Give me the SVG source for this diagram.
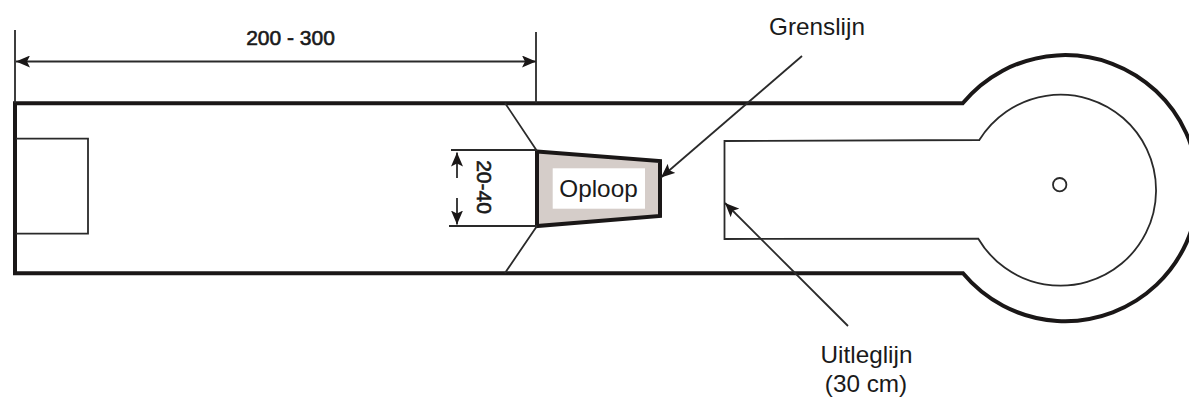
<svg xmlns="http://www.w3.org/2000/svg" width="1189" height="398" viewBox="0 0 1189 398">
<style>
text{font-family:"Liberation Sans",Arial,sans-serif;fill:#1a1a1a}
.thick{fill:none;stroke:#1a1717;stroke-width:4}
.thin{fill:none;stroke:#2a2a2a;stroke-width:1.8}
.conn{fill:none;stroke:#2a2a2a;stroke-width:1.8}
.lbl{font-size:24.3px;text-anchor:middle}
.b{font-size:21px;text-anchor:middle;stroke:#1a1a1a;stroke-width:.6}
</style>
<defs>
<marker id="a" viewBox="0 0 14 12" refX="14" refY="6" markerWidth="14" markerHeight="12" markerUnits="userSpaceOnUse" orient="auto-start-reverse"><path d="M0 0L14 6L0 12L3 6Z" fill="#1a1717"/></marker>
</defs>
<rect width="1189" height="398" fill="#fff"/>
<g id="field">
<path class="thick" d="M15 103.3H962.7A133 133 0 1 1 963 273.3H15Z"/>
</g>
<g id="inner-line">
<path class="thin" d="M724.5 141L979.3 140A95.5 95.5 0 1 1 978.3 238.7L724.5 239Z"/>
<circle class="thin" cx="1059.7" cy="184.7" r="6.7"/>
</g>
<g id="box"><path class="thin" d="M16 138.7H88V233.7H16"/></g>
<g id="oploop">
<path d="M537 151.5L660 161V216L537 226Z" fill="#d5cdc9" stroke="#1a1717" stroke-width="4"/>
<rect x="552.7" y="168.3" width="92.3" height="40.4" fill="#fff"/>
<text x="598.5" y="197.3" font-size="24.3" text-anchor="middle">Oploop</text>
</g>
<g id="connectors">
<path class="conn" d="M15 30V103M536 32V103M505 103L537 151M505 273L537 226M451 150H537M449 226H537"/>
<path class="conn" marker-start="url(#a)" marker-end="url(#a)" d="M16 61.5H536"/>
<path class="conn" marker-end="url(#a)" d="M457 178V152.5"/>
<path class="conn" marker-end="url(#a)" d="M457 198V224.5"/>
<path class="conn" marker-end="url(#a)" d="M802 56L661 177.5"/>
<path class="conn" marker-end="url(#a)" d="M848 326L725 203"/>
</g>
<g id="labels">
<text class="b" x="290.5" y="45">200 - 300</text>
<text class="b" transform="translate(477 187) rotate(90)" x="0" y="0">20-40</text>
<text class="lbl" x="817" y="35">Grenslijn</text>
<text class="lbl" x="866.5" y="363">Uitleglijn</text>
<text class="lbl" x="866" y="392">(30 cm)</text>
</g>
</svg>
